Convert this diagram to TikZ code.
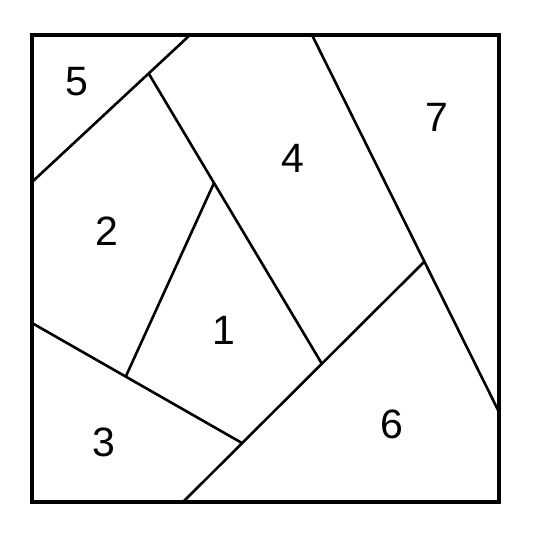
\documentclass[tikz,border=0pt]{standalone}
\usepackage{fontspec}
\setmainfont{Liberation Sans}
\usetikzlibrary{positioning}
\tikzset{
frame/.style={line width=3.2pt, line join=miter}, % outer square of the block
seam/.style={line width=2.6pt}, % the seams between the patches
patch/.style={font=\fontsize{41}{44}\selectfont, inner sep=0pt}, % the patch numbers
}

\begin{document}
\begin{tikzpicture}[x=1pt, y=-1pt]
      \useasboundingbox (0,0) rectangle (533,533);
      \coordinate (tl) at (32,35);
      \coordinate (tr) at (499,35);
      \coordinate (br) at (499,502);
      \coordinate (bl) at (32,502);
      \coordinate (a) at (190,35);
      \coordinate (b) at (32,182);
      \coordinate (c) at (149,74);
      \coordinate (d) at (214,183);
      \coordinate (e) at (322,364);
      \coordinate (f) at (126,376);
      \coordinate (g) at (32,323);
      \coordinate (h) at (242,443);
      \coordinate (i) at (183,502);
      \coordinate (j) at (424,262);
      \coordinate (k) at (312,35);
      \coordinate (l) at (499,412);

      \node[patch] (p5) at (77,82) {5};
      \node[patch] (p2) at (107,231) {2};
      \node[patch] (p4) at (293,158) {4};
      \node[patch] (p7) at (437,117) {7};
      \node[patch] (p1) at (224,330) {1};
      \node[patch] (p3) at (104,442) {3};
      \node[patch] (p6) at (392,424) {6};

      \draw[seam] (a) -- (b)
      (c) -- (e)
      (d) -- (f)
      (g) -- (h)
      (i) -- (j)
      (k) -- (l);
      \draw[frame] (tl) -- (tr) -- (br) -- (bl) -- cycle;
    \end{tikzpicture}
\end{document}
